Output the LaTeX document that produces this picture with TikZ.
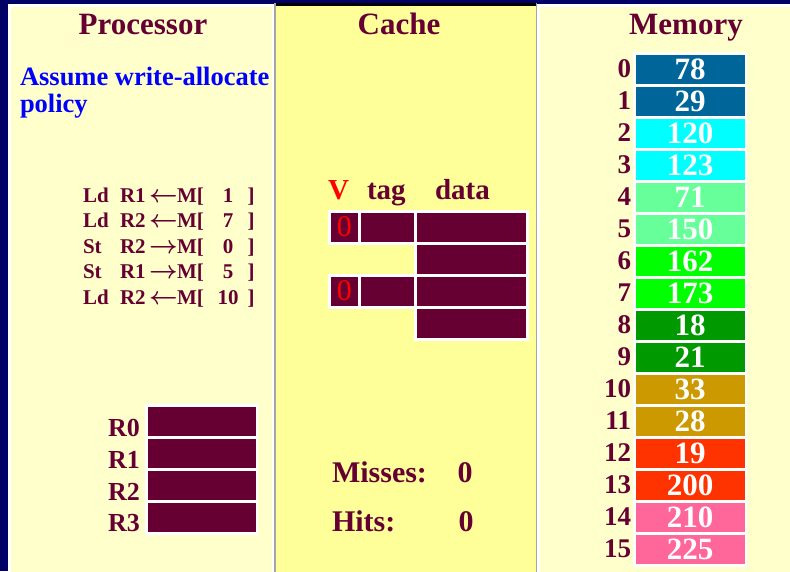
\documentclass[tikz,border=0pt]{standalone}
\usepackage{fontspec}
\setmainfont{Liberation Serif}
\definecolor{navybg}{HTML}{000066}
\definecolor{pale}{HTML}{FFFFCC}
\definecolor{cyel}{HTML}{FFFF99}
\definecolor{mrn}{HTML}{660033}
\definecolor{blu}{HTML}{0000FF}
\definecolor{redv}{HTML}{FF0000}
\definecolor{mA}{HTML}{006699}
\definecolor{mB}{HTML}{00FFFF}
\definecolor{mC}{HTML}{66FF99}
\definecolor{mD}{HTML}{00FF00}
\definecolor{mE}{HTML}{009900}
\definecolor{mF}{HTML}{CC9900}
\definecolor{mG}{HTML}{FF3300}
\definecolor{mH}{HTML}{FF6699}
\newcommand{\myleft}{{\fontsize{25}{25}\selectfont\boldmath$\leftarrow$}}
\newcommand{\myright}{{\fontsize{25}{25}\selectfont\boldmath$\rightarrow$}}
\tikzset{
  every node/.style={inner sep=0pt, outer sep=0pt},
  titletext/.style={font=\fontsize{31}{31}\selectfont\bfseries, text=mrn, anchor=base},
  notetext/.style={font=\fontsize{26.5}{26.5}\selectfont\bfseries, text=blu, anchor=base west},
  instr/.style={font=\fontsize{21}{21}\selectfont\bfseries, text=mrn},
  reglbl/.style={font=\fontsize{26}{26}\selectfont\bfseries, text=mrn, anchor=base east},
  regcell/.style={fill=mrn, draw=white, line width=2.5pt, minimum width=110.5pt, minimum height=32pt},
  memlbl/.style={font=\fontsize{27}{27}\selectfont\bfseries, text=mrn, anchor=base east},
  memcell/.style={draw=white, line width=2.5pt, minimum width=111.5pt, minimum height=32pt,
    text=white, font=\fontsize{31}{31}\selectfont\bfseries},
  cachecell/.style={fill=mrn, draw=white, line width=3pt, minimum height=32pt},
  vbit/.style={cachecell, minimum width=29.5pt, text=redv, font=\fontsize{30}{30}\selectfont},
  cachehead/.style={font=\fontsize{29}{29}\selectfont\bfseries, text=mrn, anchor=base west},
  stattext/.style={font=\fontsize{30}{30}\selectfont\bfseries, text=mrn}
}
\begin{document}
\begin{tikzpicture}[x=1pt,y=-1pt]
\useasboundingbox (0,0) rectangle (790,571);
% background and panels
\fill[navybg] (0,0) rectangle (790,571);
\filldraw[fill=pale, draw=white, line width=3pt] (9.5,5.5) rectangle (273,580);
\fill[cyel] (275,3) rectangle (536.5,580);
\fill[black] (275,3) rectangle (536.5,6);
\draw[gray!70, line width=1.5pt] (275,3) -- (275,580) (536.5,3) -- (536.5,580);
\filldraw[fill=pale, draw=white, line width=3pt] (538.5,5.5) rectangle (795,580);
% titles
\node[titletext] (tproc) at (143,34) {Processor};
\node[titletext] (tcache) at (399,34) {Cache};
\node[titletext] (tmem) at (686,34) {Memory};
% note
\node[notetext] (note1) at (20,85) {Assume write-allocate};
\node[notetext] (note2) at (20,112) {policy};
% instructions
\foreach \op/\rg/\ar/\ad [count=\k from 0] in {Ld/R1/\myleft/1, Ld/R2/\myleft/7, St/R2/\myright/0, St/R1/\myright/5, Ld/R2/\myleft/10}{
  \node[instr, anchor=base west] (iop\k) at (83,{202+25.5*\k}) {\op};
  \node[instr, anchor=base west] (ireg\k) at (120,{202+25.5*\k}) {\rg};
  \node[instr, anchor=base] (iar\k) at (163.5,{202+25.5*\k}) {\ar};
  \node[instr, anchor=base west] (im\k) at (177,{202+25.5*\k}) {M[};
  \node[instr, anchor=base] (iad\k) at (228,{202+25.5*\k}) {\ad};
  \node[instr, anchor=base] (ibr\k) at (251,{202+25.5*\k}) {]};
}
% registers
\foreach \i in {0,...,3}{
  \node[regcell] (r\i) at (201.5,{421.5+32*\i}) {};
  \node[reglbl] (rl\i) at (140,{436.5+31.8*\i}) {R\i};
}
% cache
\node[cachehead, text=redv] (hv) at (328,199) {V};
\node[cachehead] (htag) at (367,199) {tag};
\node[cachehead] (hdata) at (435,199) {data};
\foreach \i in {0,...,3}{
  \node[cachecell, minimum width=112pt] (cd\i) at (471.5,{227+32*\i}) {};
}
\foreach \i in {0,2}{
  \node[cachecell, minimum width=56.5pt] (ct\i) at (387.25,{227+32*\i}) {};
  \node[vbit] (cv\i) at (344.25,{227+32*\i}) {0};
}
\node[stattext, anchor=base west] (miss) at (332,482) {Misses:};
\node[stattext, anchor=base] (missn) at (465,482) {0};
\node[stattext, anchor=base west] (hits) at (332,531) {Hits:};
\node[stattext, anchor=base] (hitsn) at (466,531) {0};
% memory
\foreach \i/\v/\c in {0/78/mA,1/29/mA,2/120/mB,3/123/mB,4/71/mC,5/150/mC,6/162/mD,7/173/mD,8/18/mE,9/21/mE,10/33/mF,11/28/mF,12/19/mG,13/200/mG,14/210/mH,15/225/mH}{
  \node[memcell, fill=\c] (m\i) at (690,{69.5+32*\i}) {\v};
  \node[memlbl] (ml\i) at (631,{77+32*\i}) {\i};
}
\end{tikzpicture}
\end{document}
